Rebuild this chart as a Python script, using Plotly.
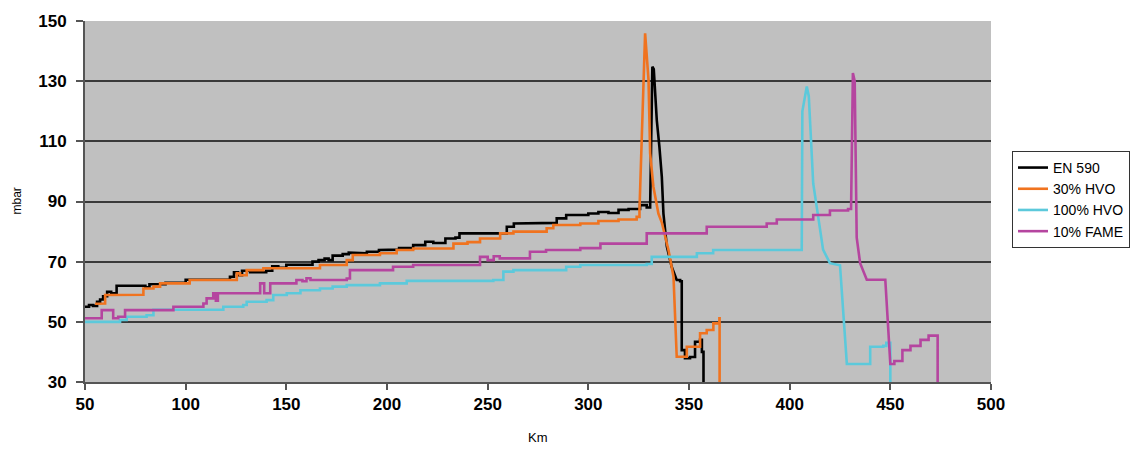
import plotly.graph_objects as go

# ---------------- data ----------------
en590_km = [50, 52, 54, 56, 57.5, 59, 61, 63, 65.7, 70, 78, 80, 82, 85, 90, 98, 100, 105, 115,
            122, 124, 126, 128, 132, 140, 143, 146, 150, 158, 163, 166, 169, 171, 173, 178, 181,
            186, 190, 196, 200, 206, 213, 219, 223, 229, 234, 236, 240, 250, 257, 259.5, 263,
            270, 278, 282, 284.3, 289, 296, 300, 305, 310, 315, 320, 325.7, 329, 330.7, 331.8,
            332.5, 334, 335.3, 336.5, 337.3, 339, 341.4, 343.9, 345.6, 346.4, 348, 350.5, 353,
            355.5, 356.4, 357.2]
en590_mbar = [55, 55.6, 55.3, 56.7, 57.4, 58.5, 60, 59.5, 62, 62, 62, 61.5, 62.5, 62.5, 63, 63,
              64, 64, 64, 65, 66.5, 65.5, 67, 66.5, 67, 68.5, 68, 69, 69, 70, 70.5, 71, 70.5, 72,
              72.5, 73, 72.8, 73.3, 73.9, 74, 74.5, 75.5, 76.6, 76.2, 77.7, 78, 79.4, 79.4, 79.4,
              79.4, 81.6, 82.7, 82.7, 82.7, 82.9, 84.4, 85.5, 85.5, 86, 86.5, 86.2, 87.2, 87.5,
              88.8, 88, 88.3, 134.8, 134, 117, 108.2, 98.2, 86, 75, 68.3, 63.9, 63.5, 40.6, 37.9,
              38.3, 43.4, 44, 40, 30]

hvo30_km = [55, 57.5, 60, 78, 79, 84, 87.3, 100.5, 102, 123.7, 125.4, 127, 130.3, 138, 138.6,
            163, 166.7, 178, 180, 183, 196.5, 204.8, 213, 229.7, 233, 240, 246.2, 256.2, 262.8,
            276, 279.3, 282.6, 296, 305, 315, 324, 325.4, 326.5, 328.2, 329.9, 330.7, 332.3,
            334.8, 336.5, 339.8, 342.3, 343.9, 346.4, 348.9, 352.2, 355.5, 358.8, 362.1, 365.1,
            365.2]
hvo30_mbar = [56, 56.1, 58.9, 59, 61.1, 61.7, 62.8, 62.8, 63.9, 63.9, 66.1, 65.5, 67.2, 67.2,
              67.8, 67.8, 68.9, 68.9, 70.5, 72.2, 72.8, 73.9, 74.4, 74.4, 76, 76.5, 77.7, 79.4,
              80, 80, 81.1, 82.2, 82.7, 83.5, 84, 84.9, 87.2, 112.8, 145.9, 130.4, 106, 95, 86,
              83, 73.9, 65, 38.4, 38.4, 41.7, 41.7, 46.2, 47.3, 49.5, 51.2, 30]

hvo100_km = [50, 67.4, 70.7, 80.6, 84, 117, 118.7, 128.6, 130.3, 140.2, 143.5, 150.2, 157, 166.7,
             173, 180, 196.5, 209.8, 252.8, 257.8, 262.8, 279, 289, 296, 329, 331.5, 353.9, 362,
             406, 406.3, 408.5, 409.5, 411.7, 414, 416.6, 420, 425, 428.4, 435, 440, 446.5, 448,
             449, 450]
hvo100_mbar = [50, 50.6, 51.7, 52.2, 54, 54, 55, 55.6, 56.7, 57.2, 58.9, 59.5, 60.5, 61.1, 61.7,
               62.2, 62.8, 63.6, 63.9, 66.7, 67.2, 67.2, 68.3, 68.9, 69.2, 71.6, 72.8, 73.9, 74.2,
               120, 128.2, 125, 96, 85, 74, 69.5, 68.8, 36, 36, 41.7, 42, 43, 43, 30]

fame10_km = [50, 55.8, 58.3, 62.4, 64, 66.5, 69.9, 92.2, 93.9, 108.8, 110.4, 113.7, 115, 116,
             135.3, 137, 139, 142, 153, 155, 158, 160, 162, 180, 181.6, 185, 196.5, 203, 213,
             243.6, 246.2, 250, 253, 256, 267.8, 271, 279, 296, 306, 329, 353.9, 358.8, 388.6,
             393.6, 411.7, 420, 429, 430.5, 431.4, 432.3, 433.3, 435, 438.3, 447.5, 450, 452,
             456, 460, 465, 469, 473.4, 473.5]
fame10_mbar = [51.2, 51.2, 53.9, 53.9, 51.2, 51.7, 53.9, 53.9, 55, 56.1, 57.8, 59.5, 57, 59.5,
               59.5, 62.8, 59.5, 62.8, 62.8, 63.9, 63.5, 64.5, 63.9, 64.4, 67.2, 67.2, 67.2, 68.3,
               68.9, 68.9, 71.6, 70.5, 71.8, 71.1, 71.1, 73.3, 73.9, 74.5, 76, 79.4, 79.4, 81.6,
               82.7, 84, 85.5, 87, 87.5, 87.5, 132.7, 130, 78, 69.5, 64, 64, 36, 37, 40.6, 42,
               44, 45.4, 45.4, 30]

# km ranges where the recorded curve changes continuously (peaks); elsewhere it steps
en590_smooth = [(330.7, 343.9)]
hvo30_smooth = [(325.4, 343.9)]
hvo100_smooth = [(406, 428.4)]
fame10_smooth = [(430.5, 438.3), (447.5, 450)]

series_names = ["EN 590", "30% HVO", "100% HVO", "10% FAME"]
x_ticks = [50, 100, 150, 200, 250, 300, 350, 400, 450, 500]
y_ticks = [30, 50, 70, 90, 110, 130, 150]


def vertices(xs, ys, smooth):
    vx, vy = [xs[0]], [ys[0]]
    for i in range(1, len(xs)):
        if not any(a < xs[i] <= b for a, b in smooth):
            vx.append(xs[i])
            vy.append(ys[i - 1])
        vx.append(xs[i])
        vy.append(ys[i])
    return vx, vy


# ---------------- figure ----------------
colors = ["#000000", "#F0731F", "#5CC9DB", "#B5459F"]
data = [(en590_km, en590_mbar, en590_smooth), (hvo30_km, hvo30_mbar, hvo30_smooth),
        (hvo100_km, hvo100_mbar, hvo100_smooth), (fame10_km, fame10_mbar, fame10_smooth)]

fig = go.Figure()
for name, (x, y, sm), c in zip(series_names, data, colors):
    vx, vy = vertices(x, y, sm)
    fig.add_trace(go.Scatter(x=vx, y=vy, mode="lines", name=name, legendgroup=name,
                             line=dict(color=c, width=2.6), cliponaxis=True))

PL, PR, PT, PB = 85, 155, 21, 70
fig.update_layout(
    width=1146, height=452,
    margin=dict(l=PL, r=PR, t=PT, b=PB),
    paper_bgcolor="white",
    plot_bgcolor="#C0C0C0",
    font=dict(family="Liberation Sans, Arial, sans-serif", color="black"),
    showlegend=True,
    legend=dict(x=1.0232, y=0.64, xanchor="left", yanchor="top",
                bgcolor="white", bordercolor="#333333", borderwidth=1,
                font=dict(size=14, color="black"), tracegroupgap=5,
                traceorder="normal"),
    xaxis=dict(range=[50, 500], tickvals=x_ticks, ticktext=[str(v) for v in x_ticks],
               showgrid=False, zeroline=False, showline=True, linecolor="#555555", linewidth=2,
               ticks="outside", ticklen=6, tickcolor="#555555", tickwidth=1.5,
               tickfont=dict(size=17, family="Liberation Sans, Arial", weight="bold")),
    yaxis=dict(range=[30, 150], tickvals=y_ticks, ticktext=[str(v) for v in y_ticks],
               showgrid=True, gridcolor="#3a3a3a", gridwidth=1.5, zeroline=False,
               showline=True, linecolor="#555555", linewidth=2,
               ticks="outside", ticklen=7, tickcolor="#555555", tickwidth=1.5,
               ticklabelstandoff=6,
               tickfont=dict(size=17, family="Liberation Sans, Arial", weight="bold")),
    annotations=[
        dict(text="Km", xref="paper", yref="paper", x=0.5, y=-55/361, xanchor="center",
             yanchor="middle", showarrow=False, font=dict(size=13)),
        dict(text="mbar", xref="paper", yref="paper", x=-69/906, y=0.5, xanchor="center",
             yanchor="middle", textangle=-90, showarrow=False, font=dict(size=12)),
    ],
)

fig.write_html("out.html")
